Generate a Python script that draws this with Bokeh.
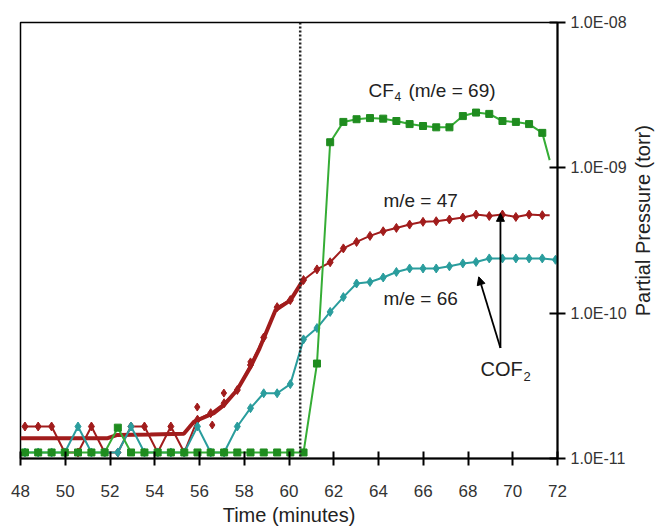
import math
from bokeh.plotting import figure
from bokeh.layouts import row
from bokeh.models import (FixedTicker, CustomJSTickFormatter, Span, Label, Arrow,
                          NormalHead)
from bokeh.core.properties import value
from bokeh.embed import file_html
from bokeh.resources import INLINE

# ---------------- data ----------------
t_grid = [48.2, 48.79, 49.39, 49.98, 50.57, 51.17, 51.76, 52.35, 52.94, 53.54,
          54.13, 54.72, 55.32, 55.91, 56.5, 57.1, 57.69, 58.28, 58.87, 59.47,
          60.06, 60.65, 61.25, 61.84, 62.43, 63.02, 63.62, 64.21, 64.80, 65.39,
          65.99, 66.58, 67.17, 67.77, 68.36, 68.95, 69.54, 70.14, 70.73, 71.32, 71.91]

# CF4 (m/e = 69)
cf4_t = t_grid[:40] + [71.65]
cf4_p = [1.1e-11, 1.1e-11, 1.1e-11, 1.1e-11, 1.1e-11, 1.1e-11, 1.1e-11, 1.63e-11, 1.1e-11, 1.1e-11,
         1.1e-11, 1.1e-11, 1.1e-11, 1.1e-11, 1.1e-11, 1.1e-11, 1.1e-11, 1.1e-11, 1.1e-11, 1.1e-11,
         1.1e-11, 1.1e-11, 4.5e-11, 1.5e-9, 2.07e-9, 2.16e-9, 2.2e-9, 2.18e-9, 2.1e-9, 2.0e-9,
         1.94e-9, 1.9e-9, 1.9e-9, 2.27e-9, 2.4e-9, 2.35e-9, 2.1e-9, 2.07e-9, 2.0e-9, 1.74e-9,
         1.13e-9]

# m/e = 47 (COF2)
m47_t = t_grid[:40] + [71.65]
m47_p = [1.66e-11, 1.66e-11, 1.66e-11, 1.1e-11, 1.1e-11, 1.66e-11, 1.1e-11, 1.1e-11, 1.66e-11, 1.66e-11,
         1.1e-11, 1.66e-11, 1.1e-11, 1.85e-11, 2.05e-11, 2.4e-11, 2.96e-11, 4.4e-11, 6.8e-11, 1.1e-10,
         1.23e-10, 1.69e-10, 2.0e-10, 2.24e-10, 2.79e-10, 3.09e-10, 3.4e-10, 3.66e-10, 3.86e-10, 4.07e-10,
         4.25e-10, 4.29e-10, 4.41e-10, 4.55e-10, 4.77e-10, 4.66e-10, 4.77e-10, 4.59e-10, 4.77e-10, 4.72e-10,
         4.72e-10]
m47_trend_t = [48.0, 51.9, 52.3, 53.8, 55.3, 55.75, 56.64, 57.09, 57.68, 58.28, 58.68, 59.4, 60.07, 60.63]
m47_trend_p = [1.38e-11, 1.38e-11, 1.45e-11, 1.46e-11, 1.48e-11, 1.79e-11, 2.05e-11, 2.33e-11, 2.96e-11,
               4.27e-11, 5.71e-11, 1.05e-10, 1.23e-10, 1.69e-10]
m47_scatter_t = [55.9, 56.57, 57.09, 58.28]
m47_scatter_p = [2.26e-11, 1.70e-11, 2.82e-11, 4.62e-11]

# m/e = 66 (COF2)
m66_t = t_grid + [72.0]
m66_p = [1.1e-11, 1.1e-11, 1.1e-11, 1.1e-11, 1.66e-11, 1.1e-11, 1.1e-11, 1.1e-11, 1.66e-11, 1.1e-11,
         1.1e-11, 1.1e-11, 1.1e-11, 1.66e-11, 1.1e-11, 1.1e-11, 1.66e-11, 2.22e-11, 2.81e-11, 2.81e-11,
         3.25e-11, 6.6e-11, 7.9e-11, 1.02e-10, 1.29e-10, 1.6e-10, 1.64e-10, 1.76e-10, 1.92e-10, 2.03e-10,
         2.03e-10, 2.03e-10, 2.10e-10, 2.20e-10, 2.25e-10, 2.38e-10, 2.38e-10, 2.38e-10, 2.38e-10, 2.38e-10,
         2.33e-10, 2.4e-10]

x_ticks = [48, 50, 52, 54, 56, 58, 60, 62, 64, 66, 68, 70, 72]
y_ticks = [1e-11, 1e-10, 1e-9, 1e-8]
event_time = 60.5
y_title = "Partial Pressure (torr)"

# ---------------- styling ----------------
RED = "#a11c1c"
TEAL = "#2a9d9d"
GREEN_LINE = "#35ad35"
GREEN_MARK = "#1f8c1f"
FONT = "Liberation Sans"

p = figure(frame_width=537, frame_height=436, x_range=(48, 72), y_range=(1e-11, 1e-8),
           y_axis_type="log", y_axis_location="right",
           output_backend="svg", toolbar_location=None,
           min_border_left=20, min_border_top=22, min_border_right=66, min_border_bottom=60)
p.xgrid.visible = False
p.ygrid.visible = False
p.outline_line_color = "black"
p.outline_line_width = 1.5
p.background_fill_color = "white"

# x axis
xa = p.xaxis[0]
xa.ticker = FixedTicker(ticks=x_ticks)
xa.minor_tick_line_color = None
xa.major_tick_in = 7
xa.major_tick_out = 7
xa.axis_line_width = 2
xa.major_tick_line_width = 2
xa.major_label_text_font = FONT
xa.major_label_text_font_size = "17px"
xa.major_label_text_color = "#333333"
xa.major_label_standoff = 19
xa.axis_label = "Time (minutes)"
xa.axis_label_text_font = FONT
xa.axis_label_text_font_size = "20px"
xa.axis_label_text_font_style = "normal"
xa.axis_label_text_color = "#222222"
xa.axis_label_standoff = 4

# y axis (right)
ya = p.yaxis[0]
ya.ticker = FixedTicker(ticks=y_ticks)
ya.minor_tick_line_color = None
ya.major_tick_in = 8
ya.major_tick_out = 8
ya.axis_line_width = 2
ya.major_tick_line_width = 2
ya.major_label_text_font = FONT
ya.major_label_text_font_size = "16px"
ya.major_label_text_color = "#333333"
ya.major_label_standoff = 5
ya.formatter = CustomJSTickFormatter(code="""
const e = Math.round(Math.log10(tick));
const a = Math.abs(e);
return '1.0E' + (e < 0 ? '-' : '+') + (a < 10 ? '0' : '') + a;
""")

# event marker
p.add_layout(Span(location=event_time, dimension="height", line_color="#222222",
                  line_width=2.5, line_dash="2 2"))

# series
p.line(m47_trend_t, m47_trend_p, line_color=RED, line_width=4)
p.line(m47_t, m47_p, line_color=RED, line_width=2)
p.scatter(m47_t[:-1], m47_p[:-1], marker="diamond", size=9, fill_color=RED, line_color=RED)
p.scatter(m47_scatter_t, m47_scatter_p, marker="diamond", size=8, fill_color=RED, line_color=RED)

p.line(m66_t, m66_p, line_color=TEAL, line_width=2)
p.scatter(m66_t[:-1], m66_p[:-1], marker="diamond", size=9, fill_color=TEAL, line_color=TEAL)

p.line(cf4_t, cf4_p, line_color=GREEN_LINE, line_width=2)
p.scatter(cf4_t[:-1], cf4_p[:-1], marker="square", size=7, fill_color=GREEN_MARK, line_color=GREEN_MARK)

# annotations
def lab(x, y, text, size, xo=0, yo=0):
    p.add_layout(Label(x=x, y=y, text=text, x_offset=xo, y_offset=yo,
                       text_font=FONT, text_font_size=size, text_color="#222222",
                       text_baseline="middle", text_align="left"))

lab(63.55, 10 ** -8.467, "CF", "19px")
lab(63.55, 10 ** -8.467, "4", "12px", xo=26, yo=-6)
lab(63.55, 10 ** -8.467, "(m/e = 69)", "19px", xo=40)
lab(64.22, 10 ** -9.223, "m/e = 47", "19px")
lab(64.22, 10 ** -9.897, "m/e = 66", "19px")
lab(68.56, 10 ** -10.385, "COF", "20px")
lab(68.56, 10 ** -10.385, "2", "13px", xo=43, yo=-7)

p.add_layout(Arrow(end=NormalHead(size=8, fill_color="black", line_color="black"),
                   x_start=69.45, y_start=10 ** -10.24, x_end=69.45, y_end=10 ** -9.313,
                   line_color="black", line_width=1.8))
p.add_layout(Arrow(end=NormalHead(size=8, fill_color="black", line_color="black"),
                   x_start=69.45, y_start=10 ** -10.24, x_end=68.48, y_end=10 ** -9.75,
                   line_color="black", line_width=1.8))

# narrow strip to the right carrying the y-axis title, reading bottom to top
side = figure(width=28, height=528, x_range=(0, 28), y_range=(0, 528),
              output_backend="svg", toolbar_location=None, min_border=0)
side.axis.visible = False
side.xgrid.visible = False
side.ygrid.visible = False
side.outline_line_color = None
side.text(x=[13], y=[288], text=[y_title], angle=math.pi / 2,
          text_align="center", text_baseline="middle",
          text_font=value(FONT), text_font_size="20px", text_color="#222222")

layout = row(p, side)
open("out.html", "w").write(file_html(layout, INLINE))
